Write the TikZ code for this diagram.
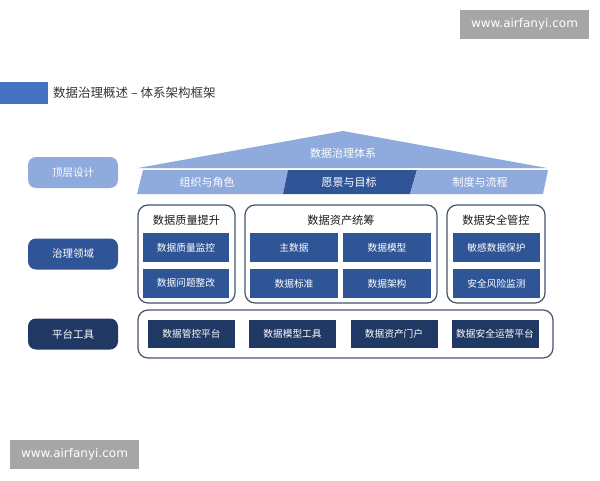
\documentclass[tikz,border=0pt]{standalone}
\usepackage{fontspec}
\newfontfamily\cjk{Noto Sans CJK SC}
\newfontfamily\wmfont{DejaVu Sans}
\definecolor{lightblue}{HTML}{8FAADC}
\definecolor{midblue}{HTML}{2F5597}
\definecolor{navy}{HTML}{203864}
\definecolor{titlebar}{HTML}{4472C4}
\definecolor{frame}{HTML}{44546A}
\definecolor{wmgray}{HTML}{A6A6A6}
\tikzset{
  every node/.style={font=\cjk},
  sidelabel/.style={rounded corners=8pt, minimum width=90pt, minimum height=31pt, inner sep=0pt, text=white, font=\cjk\fontsize{10.5}{12}\selectfont},
  container/.style={draw=frame, line width=1.2pt, rounded corners=10pt, inner sep=0pt},
  ctitle/.style={text=black!90, font=\cjk\fontsize{11.2}{13}\selectfont},
  ibox/.style={fill=midblue, minimum height=29pt, inner sep=0pt, text=white, font=\cjk\fontsize{9.7}{11}\selectfont},
  tbox/.style={fill=navy, minimum width=87pt, minimum height=28pt, inner sep=0pt, text=white, font=\cjk\fontsize{9.7}{11}\selectfont},
  bandtext/.style={text=white, font=\cjk\fontsize{11}{13}\selectfont},
  wm/.style={fill=wmgray, minimum width=129pt, minimum height=29pt, inner sep=0pt, text=white, font=\wmfont\fontsize{12}{14}\selectfont},
}
\begin{document}
\begin{tikzpicture}[x=1pt,y=-1pt]
\useasboundingbox (0,0) rectangle (600,480);
% watermarks
\node[wm] (wm1) at (524.5,24.5) {www.airfanyi.com};
\node[wm] (wm2) at (74.5,454.5) {www.airfanyi.com};
% title
\fill[titlebar] (0,82) rectangle (48,104);
\node[anchor=west, text=black!80, font=\cjk\fontsize{12.5}{14}\selectfont, inner sep=0pt] (title) at (53,93) {数据治理概述 – 体系架构框架};
% roof
\fill[lightblue] (138,168) -- (343,131) -- (547,168) -- cycle;
\node[bandtext] (roof) at (343,153) {数据治理体系};
\fill[lightblue] (143,170) -- (288,170) -- (283,194) -- (137,194) -- cycle;
\fill[midblue] (288,170) -- (417,170) -- (410,194) -- (283,194) -- cycle;
\fill[lightblue] (417,170) -- (548,170) -- (543,194) -- (410,194) -- cycle;
\node[bandtext] (b1) at (207,182) {组织与角色};
\node[bandtext] (b2) at (349,182) {愿景与目标};
\node[bandtext] (b3) at (480,182) {制度与流程};
% side labels
\node[sidelabel, fill=lightblue] (l1) at (73,172.5) {顶层设计};
\node[sidelabel, fill=midblue] (l2) at (73,254) {治理领域};
\node[sidelabel, fill=navy] (l3) at (73,334) {平台工具};
% containers
\node[container, minimum width=97pt, minimum height=98pt] (c1) at (186.5,254) {};
\node[container, minimum width=192pt, minimum height=98pt] (c2) at (341,254) {};
\node[container, minimum width=98pt, minimum height=98pt] (c3) at (496,254) {};
\node[ctitle] (t1) at (186.5,220) {数据质量提升};
\node[ctitle] (t2) at (341,220) {数据资产统筹};
\node[ctitle] (t3) at (496,220) {数据安全管控};
% inner boxes
\node[ibox, minimum width=86pt] (q1) at (186,247.5) {数据质量监控};
\node[ibox, minimum width=86pt] (q2) at (186,283) {数据问题整改};
\node[ibox, minimum width=88pt] (a1) at (294,247.5) {主数据};
\node[ibox, minimum width=88pt] (a2) at (387,247.5) {数据模型};
\node[ibox, minimum width=88pt] (a3) at (294,283.5) {数据标准};
\node[ibox, minimum width=88pt] (a4) at (387,283.5) {数据架构};
\node[ibox, minimum width=87pt] (s1) at (496.5,247.5) {敏感数据保护};
\node[ibox, minimum width=87pt] (s2) at (496.5,283.5) {安全风险监测};
% bottom
\node[container, minimum width=415pt, minimum height=48pt] (c4) at (345.5,334) {};
\node[tbox] (p1) at (191.5,334) {数据管控平台};
\node[tbox] (p2) at (292.5,334) {数据模型工具};
\node[tbox] (p3) at (394,334) {数据资产门户};
\node[tbox] (p4) at (495,334) {数据安全运营平台};
\end{tikzpicture}
\end{document}
